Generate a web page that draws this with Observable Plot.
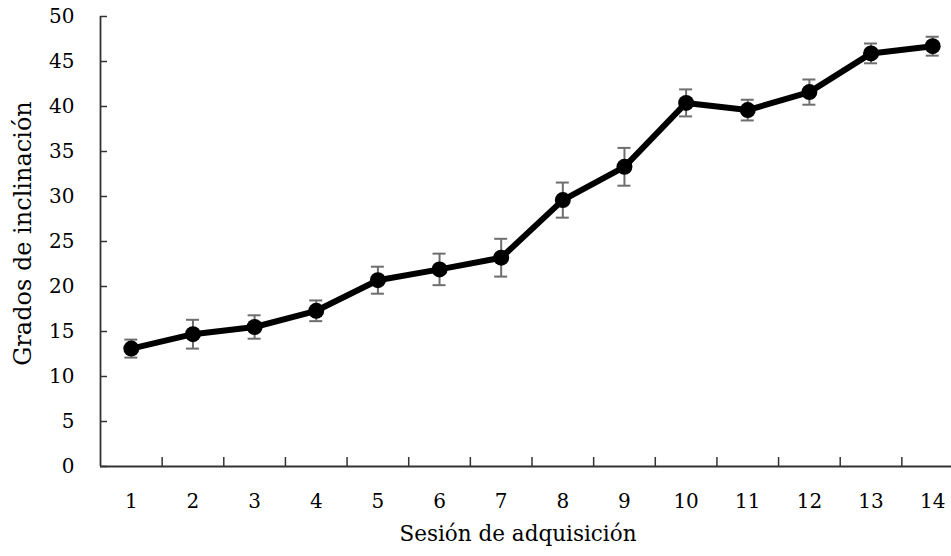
<!DOCTYPE html>
<html>
<head>
<meta charset="utf-8">
<script src="https://cdn.jsdelivr.net/npm/d3@7"></script>
<script src="https://cdn.jsdelivr.net/npm/@observablehq/plot@0.6"></script>
<style>
  html, body { margin: 0; padding: 0; background: white; }
</style>
</head>
<body>
<div id="chart"></div>
<script>
const sessions = [1, 2, 3, 4, 5, 6, 7, 8, 9, 10, 11, 12, 13, 14];
const means = [13.1, 14.7, 15.5, 17.3, 20.7, 21.9, 23.2, 29.6, 33.3, 40.4, 39.6, 41.6, 45.9, 46.7];
const errors = [1.0, 1.6, 1.3, 1.15, 1.5, 1.75, 2.1, 1.95, 2.1, 1.5, 1.15, 1.4, 1.1, 1.05];
const yTicks = [0, 5, 10, 15, 20, 25, 30, 35, 40, 45, 50];
const xBoundaries = [1.5, 2.5, 3.5, 4.5, 5.5, 6.5, 7.5, 8.5, 9.5, 10.5, 11.5, 12.5, 13.5];
const xTitle = "Sesión de adquisición";
const yTitle = "Grados de inclinación";

const data = sessions.map((s, i) => ({session: s, mean: means[i], err: errors[i]}));

const axisColor = "#333";
const errColor = "#6e6e6e";

const chart = Plot.plot({
  width: 951,
  height: 556,
  marginLeft: 100,
  marginRight: 0,
  marginTop: 16,
  marginBottom: 90,
  x: {domain: [0.5, 14.5], range: [100, 963]},
  y: {domain: [0, 50], range: [466, 16]},
  style: {fontFamily: "'DejaVu Serif', serif", fontSize: "20px", background: "white", color: "black", overflow: "hidden"},
  marks: [
    Plot.axisY({ticks: yTicks, tickSize: 0, tickPadding: 26, label: null, fontSize: 20, fill: "black", tickFormat: d => String(d)}),
    Plot.axisX({ticks: sessions, tickSize: 0, tickPadding: 27, label: null, fontSize: 20, fill: "black", tickFormat: d => String(d)}),
    Plot.ruleY(yTicks, {y: d => d, x1: 0.5, x2: 0.5, insetRight: -7, stroke: axisColor, strokeWidth: 1.5}),
    Plot.ruleX(xBoundaries, {x: d => d, y1: 0, y2: 0, insetTop: -9, stroke: axisColor, strokeWidth: 1.5}),
    Plot.ruleX([0.5], {y1: 0, y2: 50, stroke: axisColor, strokeWidth: 1.8}),
    Plot.ruleY([0], {stroke: axisColor, strokeWidth: 1.8}),
    Plot.ruleX(data, {x: "session", y1: d => d.mean - d.err, y2: d => d.mean + d.err, stroke: errColor, strokeWidth: 2}),
    Plot.ruleY(data, {y: d => d.mean + d.err, x1: "session", x2: "session", insetLeft: -6.5, insetRight: -6.5, stroke: errColor, strokeWidth: 2}),
    Plot.ruleY(data, {y: d => d.mean - d.err, x1: "session", x2: "session", insetLeft: -6.5, insetRight: -6.5, stroke: errColor, strokeWidth: 2}),
    Plot.line(data, {x: "session", y: "mean", stroke: "black", strokeWidth: 6, strokeLinejoin: "round"}),
    Plot.dot(data, {x: "session", y: "mean", r: 8, fill: "black", stroke: "none"}),
    Plot.text([xTitle], {frameAnchor: "bottom", dy: 74, dx: -8, fontSize: 21.5, fill: "black"}),
    Plot.text([yTitle], {frameAnchor: "left", textAnchor: "middle", rotate: -90, dx: -77, dy: -8, fontSize: 24, fill: "black"})
  ]
});

document.getElementById("chart").appendChild(chart);
</script>
</body>
</html>
